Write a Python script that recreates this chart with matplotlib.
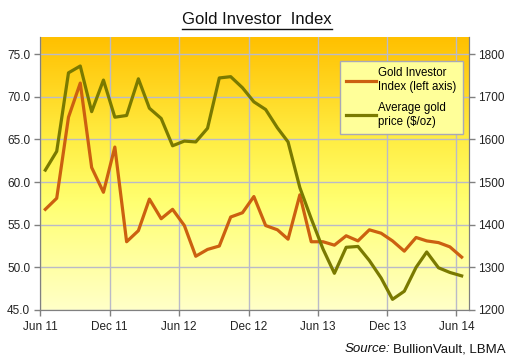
import matplotlib
matplotlib.use("Agg")
import matplotlib.pyplot as plt
import matplotlib.dates as mdates
import matplotlib.transforms as mtransforms
from matplotlib.colors import LinearSegmentedColormap
import numpy as np
import pandas as pd

plt.rcParams['font.family'] = ['Liberation Sans', 'DejaVu Sans']

# monthly data, Jun 2011 - Jun 2014
months = pd.date_range("2011-06-01", "2014-06-01", freq="MS") + pd.Timedelta(days=14)
gii = [56.8, 58.1, 67.6, 71.6, 61.7, 58.8, 64.1, 53.0, 54.3, 58.0, 55.7, 56.8,
       54.9, 51.3, 52.1, 52.5, 55.9, 56.4, 58.3, 54.9, 54.4, 53.3, 58.5, 53.0,
       53.0, 52.6, 53.7, 53.1, 54.4, 54.0, 53.1, 51.9, 53.5, 53.1, 52.9, 52.4, 51.2]
gold = [1528, 1572, 1756, 1772, 1665, 1739, 1652, 1656, 1742, 1673, 1649, 1585,
        1596, 1594, 1626, 1744, 1747, 1721, 1688, 1670, 1627, 1594, 1487, 1414,
        1343, 1286, 1347, 1349, 1316, 1275, 1225, 1244, 1300, 1336, 1299, 1288, 1280]
tick_dates = pd.to_datetime(["2011-06-01", "2011-12-01", "2012-06-01", "2012-12-01",
                             "2013-06-01", "2013-12-01", "2014-06-01"])
tick_labels = ["Jun 11", "Dec 11", "Jun 12", "Dec 12", "Jun 13", "Dec 13", "Jun 14"]

W, H = 511, 359
fig = plt.figure(figsize=(W / 100, H / 100), dpi=100, facecolor='white')
l, r, t, b = 40, 468.5, 37, 310
ax = fig.add_axes([l / W, 1 - b / H, (r - l) / W, (b - t) / H])
ax2 = ax.twinx()

x0 = mdates.date2num(pd.Timestamp("2011-06-01"))
x1 = mdates.date2num(pd.Timestamp("2014-07-03"))

# gradient background, gold at top fading to pale yellow
cmap = LinearSegmentedColormap.from_list("bg", [(0, "#FFC000"), (0.38, "#FFEE44"),
                                                (0.6, "#FFFF70"), (1, "#FFFFC8")])
grad = np.linspace(0, 1, 256).reshape(-1, 1)
ax.imshow(grad, cmap=cmap, aspect='auto', extent=[x0, x1, 45, 77], origin='upper', zorder=0)

ax.set_xlim(x0, x1)
ax.set_ylim(45, 77)
ax2.set_ylim(1200, 1840)

ax.plot(months, gii, color='#CC6010', lw=2.3, zorder=3, label='Gold Investor\nIndex (left axis)')
ax2.plot(months, gold, color='#7A7A00', lw=2.3, zorder=3, label='Average gold\nprice ($/oz)')

ax.set_yticks(np.arange(45, 76, 5))
ax.set_yticklabels([f"{v:.1f}" for v in np.arange(45, 76, 5)])
ax2.set_yticks(np.arange(1200, 1801, 100))
ax.set_xticks(tick_dates)
ax.set_xticklabels(tick_labels)
shift = mtransforms.ScaledTranslation(5 / 100, 0, fig.dpi_scale_trans)
for lab in ax.get_xticklabels():
    lab.set_transform(lab.get_transform() + shift)

ax.grid(True, color='#BABAC8', lw=1)
for a in (ax, ax2):
    a.tick_params(labelsize=8.5, colors='#222222', length=4, width=1, direction='out',
                  color='#808080', pad=3)
    for s in a.spines.values():
        s.set_color('#808080')
    a.spines['top'].set_visible(False)
ax.tick_params(axis='x', pad=4)
ax2.set_zorder(ax.get_zorder() + 1)
ax2.patch.set_visible(False)

h1, l1 = ax.get_legend_handles_labels()
h2, l2 = ax2.get_legend_handles_labels()
leg = ax2.legend(h1 + h2, l1 + l2, loc='upper left',
                 bbox_to_anchor=((340 - l) / (r - l), (b - 61) / (b - t)), borderaxespad=0,
                 fontsize=8.3, frameon=True, fancybox=False, facecolor='#FFFF99', edgecolor='#A8A8B8',
                 framealpha=1, handlelength=2.6, handletextpad=0.15, labelspacing=0.75,
                 borderpad=0.55)
leg.get_frame().set_linewidth(1)

# title with underline
title = fig.text(257 / W, 1 - 20 / H, "Gold Investor  Index", ha='center', va='center',
                 fontsize=12, color='#111111')
src = fig.text(506 / W, 1 - 349 / H, "BullionVault, LBMA", ha='right', va='center',
               fontsize=9.5, color='#111111')
fig.canvas.draw()
rend = fig.canvas.get_renderer()
tb = title.get_window_extent(rend)
fig.add_artist(plt.Line2D([tb.x0 / W, tb.x1 / W], [(tb.y0 - 1) / H] * 2, color='#111111', lw=1))
sb = src.get_window_extent(rend)
fig.text((sb.x0 - 3) / W, 1 - 349 / H, "Source:", ha='right', va='center',
         fontsize=9.5, style='italic', color='#111111')

fig.savefig("out.png", dpi=100)
